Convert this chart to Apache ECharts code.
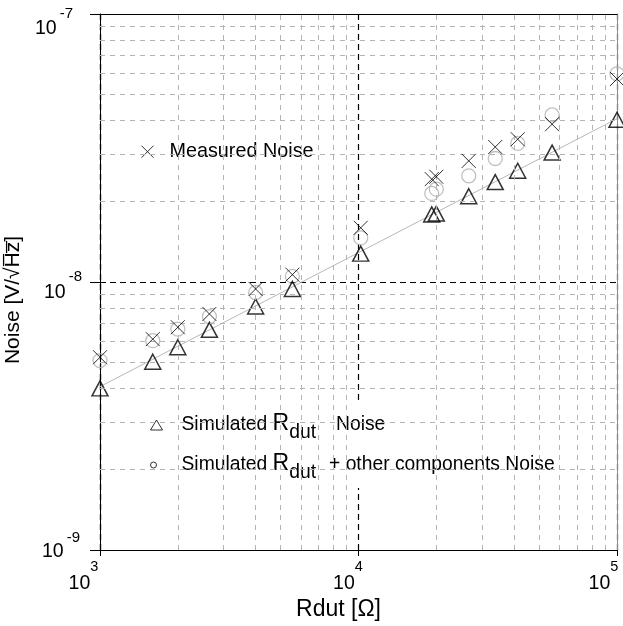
<!DOCTYPE html>
<html>
<head>
<meta charset="utf-8">
<script src="https://cdn.jsdelivr.net/npm/echarts@6.0.0/dist/echarts.min.js"></script>
<style>
html,body{margin:0;padding:0;background:#fff;}
#chart{width:623px;height:626px;}
</style>
</head>
<body>
<div id="chart"></div>
<script>
// ---- data ----
const rdut      = [1000, 1600, 2000, 2650, 4000, 5550, 10200, 19200, 20000, 26700, 33800, 41300, 56100, 100000];
const measured  = [5.24e-9, 6.12e-9, 6.78e-9, 7.6e-9, 9.42e-9, 1.065e-8, 1.593e-8, 2.42e-8, 2.47e-8, 2.83e-8, 3.19e-8, 3.41e-8, 3.88e-8, 5.72e-8];
const simRdut   = [4.01e-9, 5.04e-9, 5.71e-9, 6.63e-9, 8.1e-9, 9.42e-9, 1.276e-8, 1.787e-8, 1.80e-8, 2.09e-8, 2.36e-8, 2.6e-8, 3.04e-8, 4.03e-8];
const simTotal  = [5.09e-9, 6.04e-9, 6.67e-9, 7.43e-9, 9.14e-9, 1.05e-8, 1.46e-8, 2.14e-8, 2.22e-8, 2.49e-8, 2.89e-8, 3.29e-8, 4.2e-8, 5.98e-8];
const fitX      = [1000, 100000];
const fitY      = [4.07e-9, 4.07e-8];
const minorX    = [2000,3000,4000,5000,6000,7000,8000,9000,20000,30000,40000,50000,60000,70000,80000,90000];
const minorY    = [2e-9,3e-9,4e-9,5e-9,6e-9,7e-9,8e-9,9e-9,2e-8,3e-8,4e-8,5e-8,6e-8,7e-8,8e-8,9e-8];
const xRange    = [1000, 100000];
const yRange    = [1e-9, 1e-7];
const nameMeas  = 'Measured Noise';
const nameSimR  = 'Simulated Rdut Noise';
const nameSimT  = 'Simulated Rdut + other components Noise';

const FF = '"Liberation Sans", Arial, sans-serif';
const pairs = (xs, ys) => xs.map((x, i) => [x, ys[i]]);
const expOf = v => Math.round(Math.log10(v));

const chart = echarts.init(document.getElementById('chart'), null, {renderer: 'canvas'});

// y tick label styles (exponent above-right of "10")
const yRich = {};
const yOff = {7: {e: 0, b: 14, pr: 9}, 8: {e: -5, b: 10, pr: 0}, 9: {e: -12, b: 1, pr: 2}};
Object.keys(yOff).forEach(k => {
  const o = yOff[k];
  yRich['b' + k] = {fontSize: 19.5, fontFamily: FF, color: '#000', verticalAlign: 'top', padding: [30.25 + o.b, 0, 0, 0]};
  yRich['e' + k] = {fontSize: 15, fontFamily: FF, color: '#000', verticalAlign: 'top', padding: [32.5 + o.e, o.pr, 0, 3]};
});
// x tick label styles
const xRich = {
  b: {fontSize: 19.5, fontFamily: FF, color: '#000', verticalAlign: 'top', padding: [15.25, 0, 0, 0]},
  e: {fontSize: 14.5, fontFamily: FF, color: '#000', verticalAlign: 'top', padding: [1.75, 0, 0, 0]},
  s3: {fontSize: 2, width: 33}, s4: {fontSize: 2, width: 21}, s5: {fontSize: 2, width: 27}
};

const gridLines = minorX.map(v => [{coord: [v, yRange[0]]}, {coord: [v, yRange[1]]}])
  .concat(minorY.map(v => [{coord: [xRange[0], v]}, {coord: [xRange[1], v]}]));

const option = {
  animation: false,
  backgroundColor: '#fff',
  grid: {left: 100, right: 6, top: 14, bottom: 76, containLabel: false, outerBoundsMode: 'none'},
  xAxis: [{
    type: 'log', logBase: 10, min: xRange[0], max: xRange[1], position: 'bottom',
    name: 'Rdut [Ω]', nameLocation: 'middle', nameGap: 48,
    nameTextStyle: {fontSize: 23, fontFamily: FF, color: '#000', padding: [0, 40, 0, 0]},
    axisLine: {show: true, lineStyle: {color: '#000', width: 1}},
    axisTick: {show: true, length: 6, lineStyle: {color: '#000'}},
    splitLine: {show: true, lineStyle: {color: '#000', type: [6, 4], width: 1.2}},
    axisLabel: {
      margin: 8, verticalAlign: 'top',
      formatter: v => { const n = expOf(v); return '{b|10}{e|' + n + '}{s' + n + '| }'; },
      rich: xRich
    }
  }, {
    type: 'value', min: 0, max: 1, position: 'top', gridIndex: 0,
    axisLine: {show: true, lineStyle: {color: '#000', width: 1}},
    axisTick: {show: false}, axisLabel: {show: false}, splitLine: {show: false}
  }],
  yAxis: [{
    type: 'log', logBase: 10, min: yRange[0], max: yRange[1], position: 'left',
    name: 'Noise [V/√H\u0305z\u0305]', nameLocation: 'middle', nameGap: 65,
    nameTextStyle: {fontSize: 21, fontFamily: FF, color: '#000', padding: [0, 36, 0, 0]},
    axisLine: {show: true, lineStyle: {color: '#000', width: 1}},
    axisTick: {show: true, length: 10, lineStyle: {color: '#000'}},
    splitLine: {show: true, lineStyle: {color: '#000', type: [6, 4], width: 1.2}},
    axisLabel: {
      margin: 18, lineHeight: 80, verticalAlign: 'middle',
      formatter: v => { const n = expOf(v); const k = -n; return '{b' + k + '|10}{e' + k + '|' + n + '}'; },
      rich: yRich
    }
  }, {
    type: 'value', min: 0, max: 1, position: 'right', gridIndex: 0,
    axisLine: {show: true, lineStyle: {color: '#8a8a8a', width: 1}},
    axisTick: {show: false}, axisLabel: {show: false}, splitLine: {show: false}
  }],
  legend: [{
    data: [{name: nameMeas, icon: 'path://M0,0L12,12M12,0L0,12'}],
    left: 105, top: 124, padding: [17.7, 40, 20.3, 36],
    itemWidth: 12, itemHeight: 12, selectedMode: false,
    backgroundColor: '#fff',
    itemStyle: {color: 'transparent', borderColor: '#000', borderWidth: 1},
    textStyle: {fontSize: 19.8, fontFamily: FF, color: '#000', padding: [0, 0, 0, 11]}
  }, {
    data: [{name: nameSimR, icon: 'triangle'},
           {name: nameSimT, icon: 'path://M0,0M12,10M6,5A3,3,0,1,1,0,5A3,3,0,1,1,6,5Z'}],
    orient: 'vertical', left: 135, top: 403, padding: [2, 5, 3, 15], itemGap: 0,
    itemWidth: 12, itemHeight: 10, selectedMode: false,
    backgroundColor: '#fff',
    itemStyle: {color: 'transparent', borderColor: '#000', borderWidth: 1},
    formatter: name => name === nameSimR
      ? '{a|Simulated }{r|R}{s|dut}{g| }{a|Noise}'
      : '{a|Simulated }{r|R}{s|dut}{c|+ other components Noise}',
    textStyle: {
      fontSize: 19.3, fontFamily: FF, color: '#000', lineHeight: 40, padding: [0, 0, 0, 14],
      rich: {
        a: {fontSize: 19.3, fontFamily: FF, color: '#000', verticalAlign: 'top', padding: [10.35, 0, 0, 0]},
        r: {fontSize: 23, fontFamily: FF, color: '#000', verticalAlign: 'top', padding: [7.2, 0, 0, 0]},
        s: {fontSize: 19.3, fontFamily: FF, color: '#000', verticalAlign: 'top', padding: [18.35, 0, 0, 0]},
        g: {fontSize: 19.3, fontFamily: FF, verticalAlign: 'top', padding: [10.35, 0, 0, 0], width: 20},
        c: {fontSize: 19.3, fontFamily: FF, color: '#000', verticalAlign: 'top', padding: [10.35, 0, 0, 13]}
      }
    }
  }],
  series: [{
    name: 'fit', type: 'line', data: pairs(fitX, fitY), symbol: 'none', silent: true,
    lineStyle: {color: '#b8b8b8', width: 1}, z: 2,
    markLine: {
      silent: true, symbol: ['none', 'none'], label: {show: false}, animation: false,
      lineStyle: {color: '#b4b4b4', type: [5, 5], width: 1},
      emphasis: {disabled: true},
      data: gridLines
    }
  }, {
    name: nameSimT, type: 'scatter', data: pairs(rdut, simTotal),
    symbol: 'circle', symbolSize: 14, z: 3,
    itemStyle: {color: 'transparent', borderColor: '#b0b0b0', borderWidth: 1.3}
  }, {
    name: nameSimR, type: 'scatter', data: pairs(rdut, simRdut),
    symbol: 'triangle', symbolSize: [16, 15], z: 4,
    itemStyle: {color: 'transparent', borderColor: '#000', borderWidth: 1.5}
  }, {
    name: nameMeas, type: 'scatter', data: pairs(rdut, measured),
    symbol: 'path://M0,0L1,1M1,0L0,1', symbolSize: 14, z: 5,
    itemStyle: {color: 'transparent', borderColor: '#000', borderWidth: 1}
  }]
};
chart.setOption(option);
</script>
</body>
</html>
